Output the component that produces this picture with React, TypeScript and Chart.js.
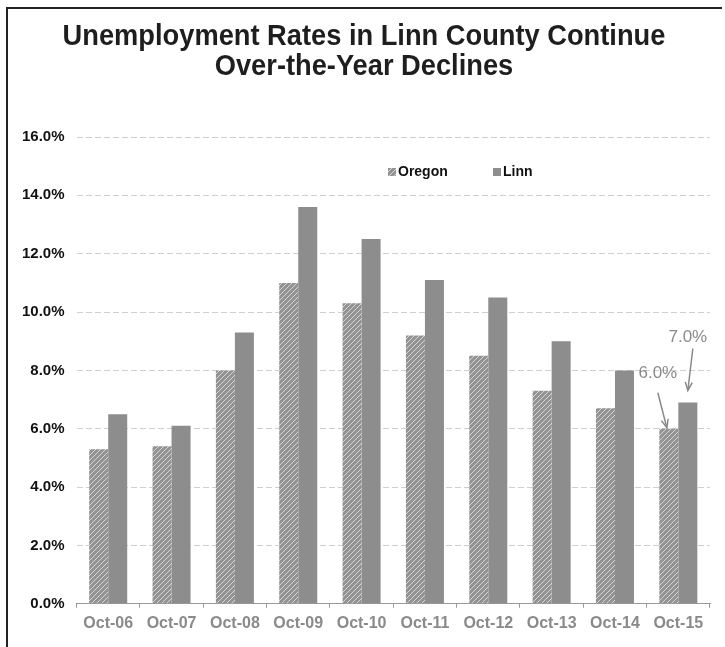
import React, { useEffect, useRef } from "react";
import { Chart, registerables } from "chart.js";

Chart.register(...registerables);

const titleLines = ["Unemployment Rates in Linn County Continue", "Over-the-Year Declines"];
const categories = ["Oct-06", "Oct-07", "Oct-08", "Oct-09", "Oct-10", "Oct-11", "Oct-12", "Oct-13", "Oct-14", "Oct-15"];
const oregonValues = [5.3, 5.4, 8.0, 11.0, 10.3, 9.2, 8.5, 7.3, 6.7, 6.0];
const linnValues = [6.5, 6.1, 9.3, 13.6, 12.5, 11.1, 10.5, 9.0, 8.0, 6.9];
const seriesNames = ["Oregon", "Linn"];
const calloutLabels = ["6.0%", "7.0%"];
const calloutIndex = 9;

function makePattern(): CanvasPattern | string {
  const c = document.createElement("canvas");
  c.width = 5;
  c.height = 5;
  const g = c.getContext("2d");
  if (!g) return "#a0a0a0";
  g.fillStyle = "#939393";
  g.fillRect(0, 0, 5, 5);
  g.strokeStyle = "rgba(225,225,225,0.85)";
  g.lineWidth = 1;
  g.beginPath();
  g.moveTo(-1, 6);
  g.lineTo(6, -1);
  g.moveTo(-3, 3);
  g.lineTo(3, -3);
  g.moveTo(2, 8);
  g.lineTo(8, 2);
  g.stroke();
  const p = g.createPattern(c, "repeat");
  return p || "#a0a0a0";
}

export default function App() {
  const ref = useRef<HTMLCanvasElement | null>(null);
  useEffect(() => {
    if (!ref.current) return;
    const pattern = makePattern();
    const linnColor = "#8d8d8d";

    const decor = {
      id: "decor",
      beforeDraw(chart: any) {
        const ctx = chart.ctx;
        ctx.save();
        ctx.fillStyle = "#ffffff";
        ctx.fillRect(0, 0, chart.width, chart.height);
        ctx.restore();
      },
      afterDraw(chart: any) {
        const ctx = chart.ctx;
        ctx.save();
        // frame
        ctx.strokeStyle = "#222";
        ctx.lineWidth = 2;
        ctx.beginPath();
        ctx.moveTo(7, chart.height);
        ctx.lineTo(7, 8);
        ctx.lineTo(722, 8);
        ctx.stroke();
        // title (slightly condensed)
        ctx.fillStyle = "#1e1e1e";
        ctx.font = "bold 29px 'Liberation Sans Narrow', 'Arial Narrow', 'Liberation Sans', Arial, sans-serif";
        ctx.textAlign = "center";
        ctx.textBaseline = "middle";
        ctx.save();
        ctx.translate(364, 0);
        ctx.scale(0.94, 1);
        ctx.fillText(titleLines[0], 0, 37);
        ctx.fillText(titleLines[1], 0, 67);
        ctx.restore();
        // legend
        ctx.font = "bold 14px 'Liberation Sans', Arial, sans-serif";
        ctx.textAlign = "left";
        ctx.fillStyle = pattern as any;
        ctx.fillRect(388, 168, 8, 8);
        ctx.fillStyle = "#111";
        ctx.fillText(seriesNames[0], 398, 172);
        ctx.fillStyle = linnColor;
        ctx.fillRect(493, 168, 8, 8);
        ctx.fillStyle = "#111";
        ctx.fillText(seriesNames[1], 503, 172);
        // callouts
        const o = chart.getDatasetMeta(0).data[calloutIndex];
        const l = chart.getDatasetMeta(1).data[calloutIndex];
        ctx.fillStyle = "#8a8a8a";
        ctx.strokeStyle = "#8a8a8a";
        ctx.lineWidth = 1.5;
        ctx.font = "17px 'Liberation Sans', Arial, sans-serif";
        ctx.textAlign = "center";
        const arrow = (x1: number, y1: number, x2: number, y2: number) => {
          ctx.beginPath();
          ctx.moveTo(x1, y1);
          ctx.lineTo(x2, y2);
          ctx.stroke();
          const a = Math.atan2(y2 - y1, x2 - x1);
          const h = 9;
          ctx.beginPath();
          ctx.moveTo(x2 - h * Math.cos(a - 0.4), y2 - h * Math.sin(a - 0.4));
          ctx.lineTo(x2, y2);
          ctx.lineTo(x2 - h * Math.cos(a + 0.4), y2 - h * Math.sin(a + 0.4));
          ctx.stroke();
        };
        if (o) {
          ctx.fillText(calloutLabels[0], o.x - 11, o.y - 55);
          arrow(o.x - 11, o.y - 36, o.x - 2, o.y - 1);
        }
        if (l) {
          ctx.fillText(calloutLabels[1], l.x, l.y - 65);
          arrow(l.x + 5, l.y - 54, l.x, l.y - 12);
        }
        ctx.restore();
      },
    };

    const chart = new Chart(ref.current, {
      type: "bar",
      data: {
        labels: categories,
        datasets: [
          { label: seriesNames[0], data: oregonValues, backgroundColor: pattern as any, borderWidth: 0 },
          { label: seriesNames[1], data: linnValues, backgroundColor: linnColor, borderWidth: 0 },
        ],
      },
      options: {
        animation: false,
        responsive: false,
        maintainAspectRatio: false,
        layout: { padding: { top: 137, left: 10, right: 15, bottom: 8 } },
        plugins: {
          legend: { display: false },
          title: { display: false },
          tooltip: { enabled: false },
        },
        datasets: { bar: { categoryPercentage: 0.6, barPercentage: 1.0 } },
        scales: {
          x: {
            grid: { drawOnChartArea: false, drawTicks: true, tickLength: 4, color: "#999" },
            border: { display: true, color: "#999", width: 1 },
            ticks: {
              color: "#8a8a8a",
              padding: 6,
              font: { family: "'Liberation Sans', Arial, sans-serif", size: 16, weight: "bold" },
            },
          },
          y: {
            min: 0,
            max: 16,
            ticks: {
              stepSize: 2,
              padding: 12,
              color: "#111",
              font: { family: "'Liberation Sans', Arial, sans-serif", size: 15, weight: "bold" },
              callback: (v: any) => Number(v).toFixed(1) + "%",
            },
            grid: { color: "#cfcfcf", drawTicks: false, lineWidth: 1 },
            border: { display: false, dash: [6, 3] },
          },
        },
      },
      plugins: [decor],
    });
    return () => chart.destroy();
  }, []);

  return (
    <div style={{ position: "fixed", left: 0, top: 0, width: 725, height: 647 }}>
      <canvas ref={ref} width={725} height={647} style={{ width: 725, height: 647 }} />
    </div>
  );
}
